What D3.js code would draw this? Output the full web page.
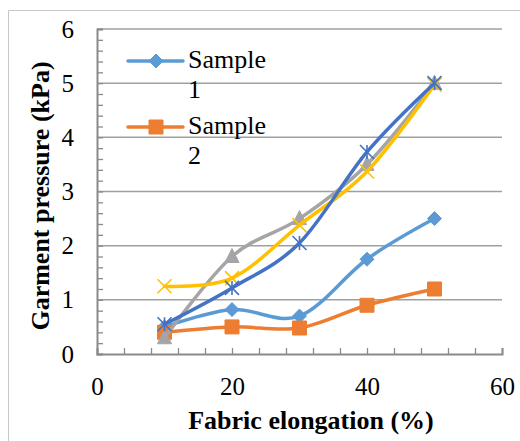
<!DOCTYPE html>
<html>
<head>
<meta charset="utf-8">
<script src="https://cdn.jsdelivr.net/npm/d3@7"></script>
<style>
  html, body { margin: 0; padding: 0; background: #fff; }
  svg { display: block; }
  text { font-family: "Liberation Serif", "Times New Roman", serif; fill: #000; }
</style>
</head>
<body>
<svg id="chart" width="520" height="441"></svg>
<script>
// Fabric elongation (%) at which garment pressure was measured
const elongation = [10, 20, 30, 40, 50];

// Garment pressure (kPa) per sample
const sample1 = [0.5, 0.82, 0.7, 1.75, 2.5];
const sample2 = [0.4, 0.5, 0.48, 0.9, 1.2];
const sample3 = [0.3, 1.8, 2.5, 3.5, 5.0];
const sample4 = [1.25, 1.4, 2.38, 3.37, 4.97];
const sample5 = [0.55, 1.22, 2.05, 3.73, 5.0];

const seriesNames = ["Sample 1", "Sample 2", "Sample 3", "Sample 4", "Sample 5"];
const seriesValues = [sample1, sample2, sample3, sample4, sample5];
const seriesColors = ["#5B9BD5", "#ED7D31", "#A5A5A5", "#FFC000", "#4472C4"];
const seriesMarkers = ["diamond", "square", "triangle", "x", "star"];

// Axis ticks
const xTicks = [0, 20, 40, 60];
const yTicks = [0, 1, 2, 3, 4, 5, 6];

const svg = d3.select("#chart");

// chart area frame
svg.append("path")
  .attr("d", "M8.5,441 V10.5 H520")
  .attr("fill", "none")
  .attr("stroke", "#c8c8c8")
  .attr("stroke-width", 1);

const x = d3.scaleLinear().domain([0, 60]).range([97, 502]);
const y = d3.scaleLinear().domain([0, 6]).range([354, 29]);

// horizontal gridlines
svg.append("g")
  .selectAll("line")
  .data(yTicks.slice(1))
  .join("line")
  .attr("x1", x(0)).attr("x2", x(60))
  .attr("y1", d => y(d)).attr("y2", d => y(d))
  .attr("stroke", "#a0a0a0")
  .attr("stroke-width", 1.5);

// y axis: minor ticks every 0.2, labels on whole numbers
const yAxis = d3.axisLeft(y)
  .tickValues(d3.range(0, 6.001, 0.2).map(v => +v.toFixed(1)))
  .tickSize(-6)
  .tickPadding(23)
  .tickFormat(d => Number.isInteger(d) && yTicks.includes(d) ? d : "");
const gy = svg.append("g").attr("transform", `translate(${x(0)},0)`).call(yAxis);

// x axis: minor ticks every 4, labels every 20
const xAxis = d3.axisBottom(x)
  .tickValues(d3.range(0, 60.001, 4))
  .tickSize(-6)
  .tickPadding(23)
  .tickFormat(d => xTicks.includes(d) ? d : "");
const gx = svg.append("g").attr("transform", `translate(0,${y(0)})`).call(xAxis);

[gx, gy].forEach(g => {
  g.select(".domain").attr("stroke", "#8a8a8a").attr("stroke-width", 2);
  g.selectAll(".tick line").attr("stroke", "#8a8a8a").attr("stroke-width", 1.3);
  g.selectAll(".tick text")
    .attr("font-size", 25)
    .attr("fill", "#000")
    .style("font-family", '"Liberation Serif", "Times New Roman", serif');
});

// axis titles
svg.append("text")
  .attr("x", 311).attr("y", 429)
  .attr("text-anchor", "middle")
  .attr("font-size", 26)
  .attr("font-weight", "bold")
  .text("Fabric elongation (%)");

svg.append("text")
  .attr("transform", "translate(49,196) rotate(-90)")
  .attr("text-anchor", "middle")
  .attr("font-size", 26)
  .attr("font-weight", "bold")
  .text("Garment pressure (kPa)");

// marker shapes, centred on the origin
function markerPath(kind) {
  const r = 7;
  switch (kind) {
    case "diamond": return `M0,${-r}L${r},0L0,${r}L${-r},0Z`;
    case "square": return `M${-r},${-r}H${r}V${r}H${-r}Z`;
    case "triangle": return `M0,${-r - 1}L${r},${r - 1}L${-r},${r - 1}Z`;
    case "x": return `M${-r},${-r}L${r},${r}M${r},${-r}L${-r},${r}`;
    case "star": return `M${-r},${-r}L${r},${r}M${r},${-r}L${-r},${r}M0,${-r}V${r}`;
  }
}
const strokeMarkers = new Set(["x", "star"]);

function drawMarker(g, kind, color, cx, cy) {
  const p = g.append("path")
    .attr("d", markerPath(kind))
    .attr("transform", `translate(${cx},${cy})`);
  if (strokeMarkers.has(kind)) {
    p.attr("fill", "none").attr("stroke", color).attr("stroke-width", 1.6);
  } else {
    p.attr("fill", color).attr("stroke", color).attr("stroke-width", 1);
  }
}

const line = d3.line()
  .x(d => x(d[0]))
  .y(d => y(d[1]))
  .curve(d3.curveCatmullRom.alpha(0));

seriesValues.forEach((vals, i) => {
  const pts = elongation.map((e, j) => [e, vals[j]]);
  const g = svg.append("g");
  g.append("path")
    .attr("d", line(pts))
    .attr("fill", "none")
    .attr("stroke", seriesColors[i])
    .attr("stroke-width", 3.5)
    .attr("stroke-linejoin", "round")
    .attr("stroke-linecap", "round");
  pts.forEach(p => drawMarker(g, seriesMarkers[i], seriesColors[i], x(p[0]), y(p[1])));
});

// legend (first two series), names wrapped onto two lines
const legendRows = [
  { idx: 0, lineY: 61, textY: 68 },
  { idx: 1, lineY: 127, textY: 134 }
];
legendRows.forEach(r => {
  const g = svg.append("g");
  const c = seriesColors[r.idx];
  g.append("line")
    .attr("x1", 128).attr("x2", 183)
    .attr("y1", r.lineY).attr("y2", r.lineY)
    .attr("stroke", c).attr("stroke-width", 3.5)
    .attr("stroke-linecap", "round");
  drawMarker(g, seriesMarkers[r.idx], c, 156, r.lineY);
  const words = seriesNames[r.idx].split(" ");
  const t = g.append("text")
    .attr("x", 188).attr("y", r.textY)
    .attr("font-size", 26);
  words.forEach((w, k) => {
    t.append("tspan").attr("x", 188).attr("dy", k === 0 ? 0 : 30).text(w);
  });
});
</script>
</body>
</html>
